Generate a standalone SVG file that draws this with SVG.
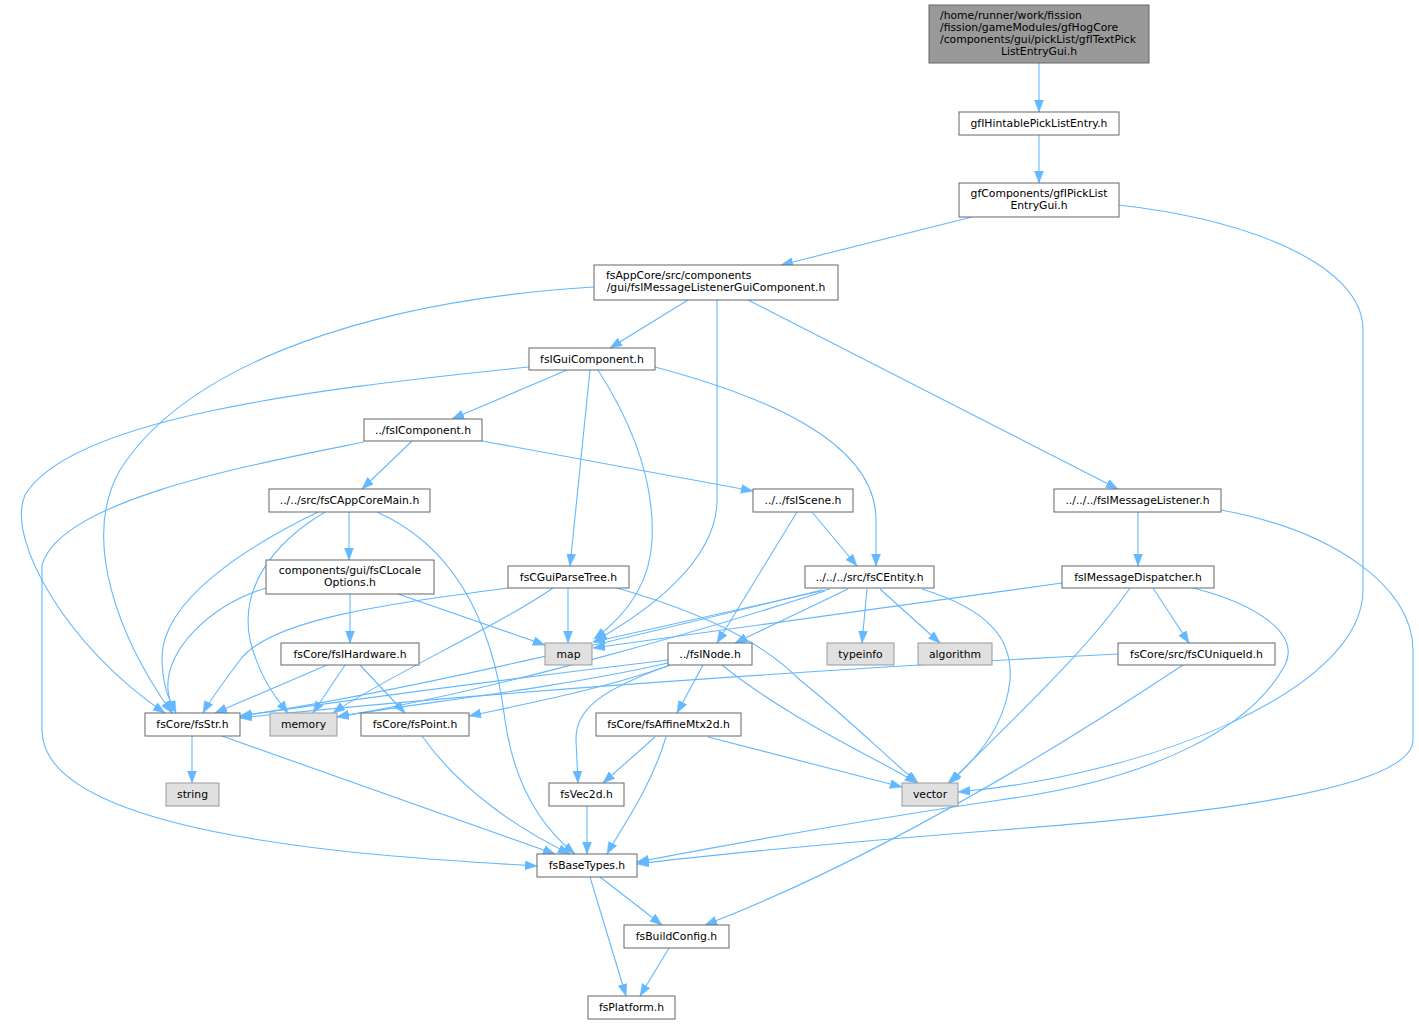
<svg xmlns="http://www.w3.org/2000/svg" width="1419" height="1024" viewBox="0 0 1419 1024">
<style>
text{font-family:"DejaVu Sans","Liberation Sans",sans-serif;font-size:10.8px;fill:#000}
.n rect{fill:#fff;stroke:#666;stroke-width:1}
.x rect{fill:#e0e0e0;stroke:#999;stroke-width:1}
.r rect{fill:#999;stroke:#666;stroke-width:1}
.n text,.x text,.r text{text-anchor:middle}
.r text.l,.n text.l{text-anchor:start}
#edges path{fill:none;stroke:#63b8ff;stroke-width:1.1;marker-end:url(#ah)}
</style>
<defs>
<marker id="ah" markerUnits="userSpaceOnUse" markerWidth="13" markerHeight="10" refX="12" refY="4.5" orient="auto">
<path d="M0,0 L12,4.5 L0,9 z" fill="#63b8ff" stroke="#63b8ff" stroke-width="0.5"/>
</marker>
</defs>
<rect width="1419" height="1024" fill="#fff"/>
<g id="edges">
<path d="M1039,63 V112"/>
<path d="M1039,135 V183"/>
<path d="M972,217 L781,265"/>
<path d="M1119,205 C1250,220 1363,265 1363,330 L1363,590 C1363,690 1150,775 958,792"/>
<path d="M688,300 L610,348"/>
<path d="M717,300 L717,500 C717,560 650,610 595,641"/>
<path d="M594,287 C380,300 190,360 120,470 C80,540 120,640 172,713"/>
<path d="M748,300 L1118,489"/>
<path d="M567,370 L452,419"/>
<path d="M529,367 C300,390 70,420 25,495 C5,540 70,650 165,713"/>
<path d="M590,370 L570,566"/>
<path d="M598,370 C630,420 655,480 652,540 C650,590 620,620 594,639"/>
<path d="M655,367 C760,395 876,440 876,520 L876,566"/>
<path d="M412,441 L362,489"/>
<path d="M482,441 L753,491"/>
<path d="M364,442 C250,465 60,500 42,565 L42,730 C42,840 400,858 537,866"/>
<path d="M349,512 V560"/>
<path d="M318,512 C250,545 160,600 162,660 C163,690 170,700 176,713"/>
<path d="M325,512 C270,545 240,590 250,640 C260,680 278,700 288,713"/>
<path d="M377,512 C440,540 490,600 505,720 C515,790 545,830 575,854"/>
<path d="M350,594 V643"/>
<path d="M398,594 L545,645"/>
<path d="M266,588 C210,605 165,650 168,690 L172,713"/>
<path d="M327,665 L215,713"/>
<path d="M345,665 L313,713"/>
<path d="M360,665 L405,713"/>
<path d="M508,588 C380,605 270,620 240,660 C225,680 210,700 203,713"/>
<path d="M568,588 V643"/>
<path d="M553,588 C500,625 380,680 333,713"/>
<path d="M617,588 C700,612 760,640 800,680 C850,720 890,760 918,783"/>
<path d="M812,512 L857,566"/>
<path d="M797,512 L717,643"/>
<path d="M1138,512 V566"/>
<path d="M1221,510 C1330,530 1413,585 1413,650 L1413,740 C1413,790 1200,815 1000,830 C850,842 700,856 637,864"/>
<path d="M830,589 L593,642"/>
<path d="M822,590 C700,620 420,690 240,716"/>
<path d="M825,591 C720,625 500,690 337,717"/>
<path d="M848,589 L735,643"/>
<path d="M867,589 L862,643"/>
<path d="M880,589 L940,643"/>
<path d="M922,589 C990,610 1013,640 1010,680 C1005,730 970,765 948,783"/>
<path d="M1062,583 L593,648"/>
<path d="M1130,588 C1080,660 1000,730 950,783"/>
<path d="M1153,588 L1189,643"/>
<path d="M1193,588 C1260,605 1300,635 1285,665 C1250,730 1150,780 1000,800 C850,822 700,850 637,862"/>
<path d="M1118,654 C900,665 500,690 240,718"/>
<path d="M1183,665 C1100,720 900,850 705,925"/>
<path d="M668,660 C500,680 350,700 240,716"/>
<path d="M668,663 C550,690 400,705 337,717"/>
<path d="M668,666 C600,690 520,705 469,716"/>
<path d="M703,665 L677,713"/>
<path d="M670,665 C600,690 575,710 576,740 L578,783"/>
<path d="M722,665 C790,720 880,760 917,783"/>
<path d="M655,737 L603,783"/>
<path d="M666,737 C650,790 620,830 607,854"/>
<path d="M708,737 L902,787"/>
<path d="M587,806 V854"/>
<path d="M422,736 C460,790 520,830 570,854"/>
<path d="M192,736 V783"/>
<path d="M222,736 L555,854"/>
<path d="M600,877 L662,925"/>
<path d="M590,877 L626,996"/>
<path d="M669,948 L640,996"/>
</g>
<g id="root" class="r"><rect x="929" y="5" width="220" height="58"/>
<text class="l" x="940" y="19">/home/runner/work/fission</text>
<text class="l" x="940" y="31">/fission/gameModules/gfHogCore</text>
<text class="l" x="940" y="43">/components/gui/pickList/gfITextPick</text>
<text x="1039" y="55">ListEntryGui.h</text></g>
<g id="gfIHintablePickListEntry" class="n"><rect x="959" y="112" width="160" height="23"/><text x="1039" y="127">gfIHintablePickListEntry.h</text></g>
<g id="gfIPickListEntryGui" class="n"><rect x="959" y="183" width="160" height="34"/><text x="1039" y="197">gfComponents/gfIPickList</text><text x="1039" y="209">EntryGui.h</text></g>
<g id="fsIMessageListenerGuiComponent" class="n"><rect x="594" y="265" width="244" height="35"/><text class="l" x="606" y="279">fsAppCore/src/components</text><text x="716" y="291">/gui/fsIMessageListenerGuiComponent.h</text></g>
<g id="fsIGuiComponent" class="n"><rect x="529" y="348" width="126" height="22"/><text x="592" y="363">fsIGuiComponent.h</text></g>
<g id="fsIComponent" class="n"><rect x="364" y="419" width="118" height="22"/><text x="423" y="434">../fsIComponent.h</text></g>
<g id="fsCAppCoreMain" class="n"><rect x="269" y="489" width="161" height="23"/><text x="349.5" y="504">../../src/fsCAppCoreMain.h</text></g>
<g id="fsIScene" class="n"><rect x="753" y="489" width="100" height="23"/><text x="803" y="504">../../fsIScene.h</text></g>
<g id="fsIMessageListener" class="n"><rect x="1054" y="489" width="167" height="23"/><text x="1137.5" y="504">../../../fsIMessageListener.h</text></g>
<g id="fsCLocaleOptions" class="n"><rect x="266" y="560" width="168" height="34"/><text x="350" y="574">components/gui/fsCLocale</text><text x="350" y="586">Options.h</text></g>
<g id="fsCGuiParseTree" class="n"><rect x="508" y="566" width="121" height="22"/><text x="568.5" y="581">fsCGuiParseTree.h</text></g>
<g id="fsCEntity" class="n"><rect x="805" y="566" width="129" height="22"/><text x="869.5" y="581">../../../src/fsCEntity.h</text></g>
<g id="fsIMessageDispatcher" class="n"><rect x="1062" y="566" width="152" height="22"/><text x="1138" y="581">fsIMessageDispatcher.h</text></g>
<g id="map" class="x"><rect x="545" y="643" width="47" height="22"/><text x="568.5" y="658">map</text></g>
<g id="fsIHardware" class="n"><rect x="281" y="643" width="138" height="22"/><text x="350" y="658">fsCore/fsIHardware.h</text></g>
<g id="fsINode" class="n"><rect x="668" y="643" width="84" height="22"/><text x="710" y="658">../fsINode.h</text></g>
<g id="typeinfo" class="x"><rect x="827" y="643" width="67" height="22"/><text x="860.5" y="658">typeinfo</text></g>
<g id="algorithm" class="x"><rect x="918" y="643" width="74" height="22"/><text x="955" y="658">algorithm</text></g>
<g id="fsCUniqueId" class="n"><rect x="1118" y="643" width="157" height="22"/><text x="1196.5" y="658">fsCore/src/fsCUniqueId.h</text></g>
<g id="fsStr" class="n"><rect x="145" y="713" width="95" height="23"/><text x="192.5" y="728">fsCore/fsStr.h</text></g>
<g id="memory" class="x"><rect x="270" y="713" width="67" height="23"/><text x="303.5" y="728">memory</text></g>
<g id="fsPoint" class="n"><rect x="361" y="713" width="108" height="23"/><text x="415" y="728">fsCore/fsPoint.h</text></g>
<g id="fsAffineMtx2d" class="n"><rect x="596" y="713" width="145" height="23"/><text x="668.5" y="728">fsCore/fsAffineMtx2d.h</text></g>
<g id="string" class="x"><rect x="166" y="783" width="53" height="23"/><text x="192.5" y="798">string</text></g>
<g id="fsVec2d" class="n"><rect x="549" y="783" width="75" height="23"/><text x="586.5" y="798">fsVec2d.h</text></g>
<g id="vector" class="x"><rect x="902" y="783" width="56" height="23"/><text x="930" y="798">vector</text></g>
<g id="fsBaseTypes" class="n"><rect x="537" y="854" width="100" height="23"/><text x="587" y="869">fsBaseTypes.h</text></g>
<g id="fsBuildConfig" class="n"><rect x="624" y="925" width="105" height="23"/><text x="676.5" y="940">fsBuildConfig.h</text></g>
<g id="fsPlatform" class="n"><rect x="588" y="996" width="87" height="23"/><text x="631.5" y="1011">fsPlatform.h</text></g>
</svg>
